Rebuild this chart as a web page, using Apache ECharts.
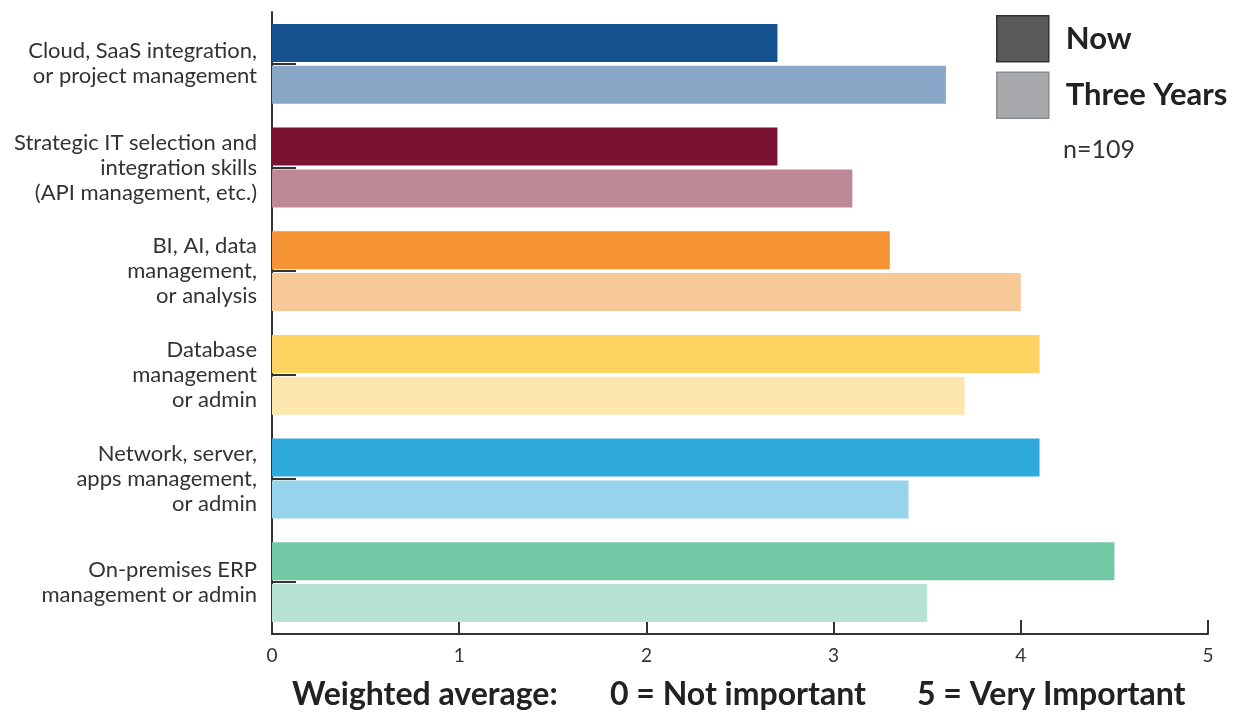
<!DOCTYPE html>
<html>
<head>
<meta charset="utf-8">
<script src="https://cdn.jsdelivr.net/npm/echarts@6/dist/echarts.min.js"></script>
<style>
  html, body { margin: 0; padding: 0; background: #fff; }
  #chart { width: 1243px; height: 719px; }
</style>
</head>
<body>
<div id="chart"></div>
<script>
// Skill areas, top to bottom
const categories = [
  'Cloud, SaaS integration,\nor project management',
  'Strategic IT selection and\nintegration skills\n(API management, etc.)',
  'BI, AI, data\nmanagement,\nor analysis',
  'Database\nmanagement\nor admin',
  'Network, server,\napps management,\nor admin',
  'On-premises ERP\nmanagement or admin'
];

// Weighted average importance (0 = not important, 5 = very important)
const nowValues = [2.7, 2.7, 3.3, 4.1, 4.1, 4.5];
const threeYearValues = [3.6, 3.1, 4.0, 3.7, 3.4, 3.5];

const seriesNames = ['Now', 'Three Years'];
const xTicks = [0, 1, 2, 3, 4, 5];
const sampleNote = 'n=109';
const axisTitleParts = ['Weighted average:', '0 = Not important', '5 = Very Important'];

// Per-category palette: strong shade for "Now", pale shade for "Three Years"
const nowColors = ['#15518e', '#7c1232', '#f59233', '#fed260', '#2ea9db', '#73c8a5'];
const laterColors = ['#89a8c7', '#be8896', '#f9c899', '#fde7ae', '#97d4ec', '#b8e3d3'];

const FONT = 'Lato, "DejaVu Sans", sans-serif';
const TEXT = '#333333';
const TITLE = '#222222';

const chart = echarts.init(document.getElementById('chart'), null, { renderer: 'canvas' });

chart.setOption({
  animation: false,
  backgroundColor: '#ffffff',
  textStyle: { fontFamily: FONT },
  grid: { left: 272, right: 35, top: 12, bottom: 85, containLabel: false },
  legend: {
    orient: 'vertical',
    left: 996,
    top: 15,
    padding: 0,
    itemWidth: 52,
    itemHeight: 46,
    itemGap: 9,
    icon: 'rect',
    selectedMode: false,
    textStyle: { fontFamily: FONT, fontSize: 31, fontWeight: 'bold', color: TITLE, padding: [0, 0, 0, 12] },
    data: [
      { name: seriesNames[0], itemStyle: { color: '#58595b', borderColor: '#333', borderWidth: 1.5 } },
      { name: seriesNames[1], itemStyle: { color: '#a7a9ac', borderColor: '#8a8c8e', borderWidth: 1.5 } }
    ]
  },
  xAxis: {
    type: 'value',
    min: xTicks[0],
    max: xTicks[xTicks.length - 1],
    interval: 1,
    axisLine: { show: true, lineStyle: { color: TEXT, width: 2 } },
    axisTick: { show: true, inside: true, length: 14, lineStyle: { color: TEXT, width: 2 } },
    axisLabel: { fontSize: 19, color: TEXT, margin: 12, fontFamily: FONT },
    splitLine: { show: false }
  },
  yAxis: {
    type: 'category',
    inverse: true,
    data: categories,
    axisLine: { show: true, lineStyle: { color: TEXT, width: 2 } },
    axisTick: { show: true, inside: true, alignWithLabel: true, length: 24, lineStyle: { color: TEXT, width: 2 } },
    axisLabel: { fontSize: 22, color: TEXT, margin: 15, lineHeight: 25, align: 'right', fontFamily: FONT }
  },
  series: [
    {
      name: seriesNames[0],
      type: 'bar',
      data: nowValues,
      barWidth: 38,
      barGap: '10%',
      itemStyle: { color: p => nowColors[p.dataIndex] },
      z: 3
    },
    {
      name: seriesNames[1],
      type: 'bar',
      data: threeYearValues,
      barWidth: 38,
      barGap: '10%',
      itemStyle: { color: p => laterColors[p.dataIndex] },
      z: 3
    }
  ],
  graphic: [
    { type: 'text', x: 1063, y: 150, style: { text: sampleNote, font: '25px ' + FONT, fill: TEXT, verticalAlign: 'middle' } },
    { type: 'text', x: 292, y: 695, style: { text: axisTitleParts[0], font: 'bold 32px ' + FONT, fill: TITLE, verticalAlign: 'middle' } },
    { type: 'text', x: 610, y: 695, style: { text: axisTitleParts[1], font: 'bold 32px ' + FONT, fill: TITLE, verticalAlign: 'middle' } },
    { type: 'text', x: 917, y: 695, style: { text: axisTitleParts[2], font: 'bold 32px ' + FONT, fill: TITLE, verticalAlign: 'middle' } }
  ]
});
</script>
</body>
</html>
